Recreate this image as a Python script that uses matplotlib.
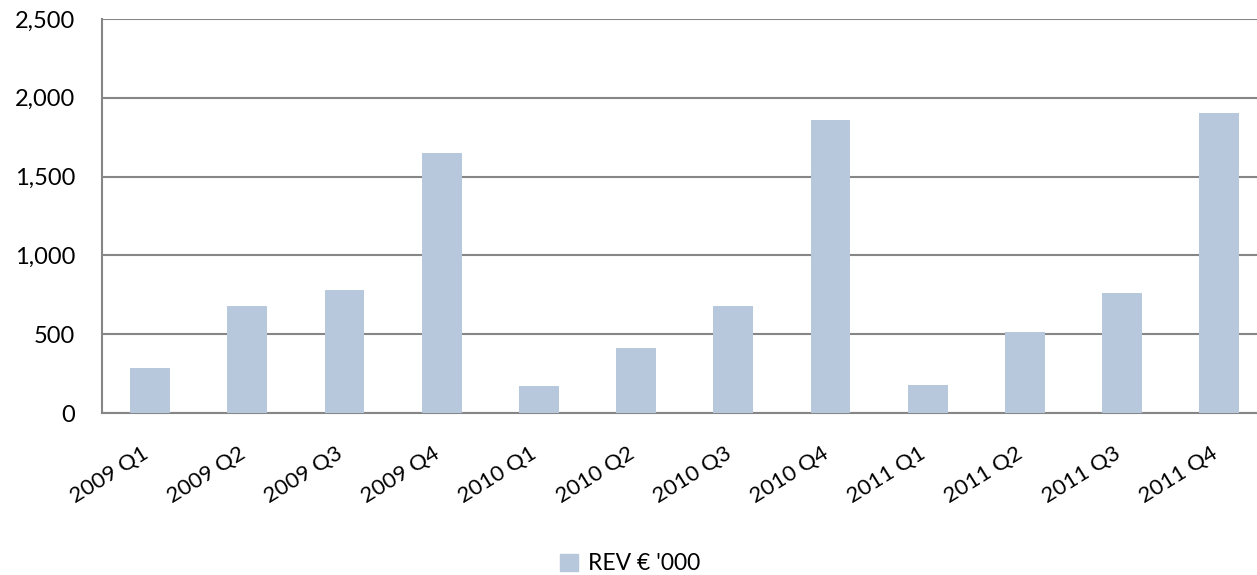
import matplotlib.pyplot as plt
from matplotlib.ticker import FuncFormatter, MultipleLocator
from matplotlib.patches import Patch
from matplotlib.transforms import ScaledTranslation

quarters = ['2009 Q1', '2009 Q2', '2009 Q3', '2009 Q4',
            '2010 Q1', '2010 Q2', '2010 Q3', '2010 Q4',
            '2011 Q1', '2011 Q2', '2011 Q3', '2011 Q4']
revenue = [285, 679, 780, 1650, 171, 412, 679, 1859, 178, 514, 761, 1904]
series_name = "REV € '000"

bar_color = '#B7C7DC'
grid_color = '#868686'

plt.rcParams['font.family'] = ['Lato', 'DejaVu Sans']

fig = plt.figure(figsize=(12.57, 5.75), dpi=100)
# plot area runs past the right edge of the picture, as in the reference
ax = fig.add_axes([101.5 / 1257, 1 - 413 / 575, 1166.4 / 1257, 394 / 575])

x = range(len(quarters))
ax.bar(x, revenue, width=0.41, color=bar_color, zorder=3)

ax.set_xlim(-0.5, len(quarters) - 0.5)
ax.set_ylim(0, 2500)
ax.yaxis.set_major_locator(MultipleLocator(500))
ax.yaxis.set_major_formatter(FuncFormatter(lambda v, p: f'{int(v):,}'))
ax.grid(axis='y', color=grid_color, linewidth=1.5, zorder=0)

ax.set_xticks(list(x))
ax.set_xticklabels(quarters, rotation=32, ha='right', rotation_mode='anchor')
ax.tick_params(axis='y', length=0, labelsize=17, colors='black', pad=19)
ax.tick_params(axis='x', length=0, labelsize=16, colors='black', pad=22)
shift = ScaledTranslation(-9 / 100, 0, fig.dpi_scale_trans)
for lbl in ax.get_xticklabels():
    lbl.set_transform(lbl.get_transform() + shift)

for side in ['top', 'right']:
    ax.spines[side].set_visible(False)
for side in ['left', 'bottom']:
    ax.spines[side].set_color(grid_color)
    ax.spines[side].set_linewidth(1.5)

handle = Patch(color=bar_color, label=series_name)
fig.legend(handles=[handle], loc='center', bbox_to_anchor=(630 / 1257, 1 - 564 / 575),
           frameon=False, fontsize=16.5, handlelength=0.8, handleheight=0.8,
           handletextpad=0.4)

fig.savefig('out.png', dpi=100)
